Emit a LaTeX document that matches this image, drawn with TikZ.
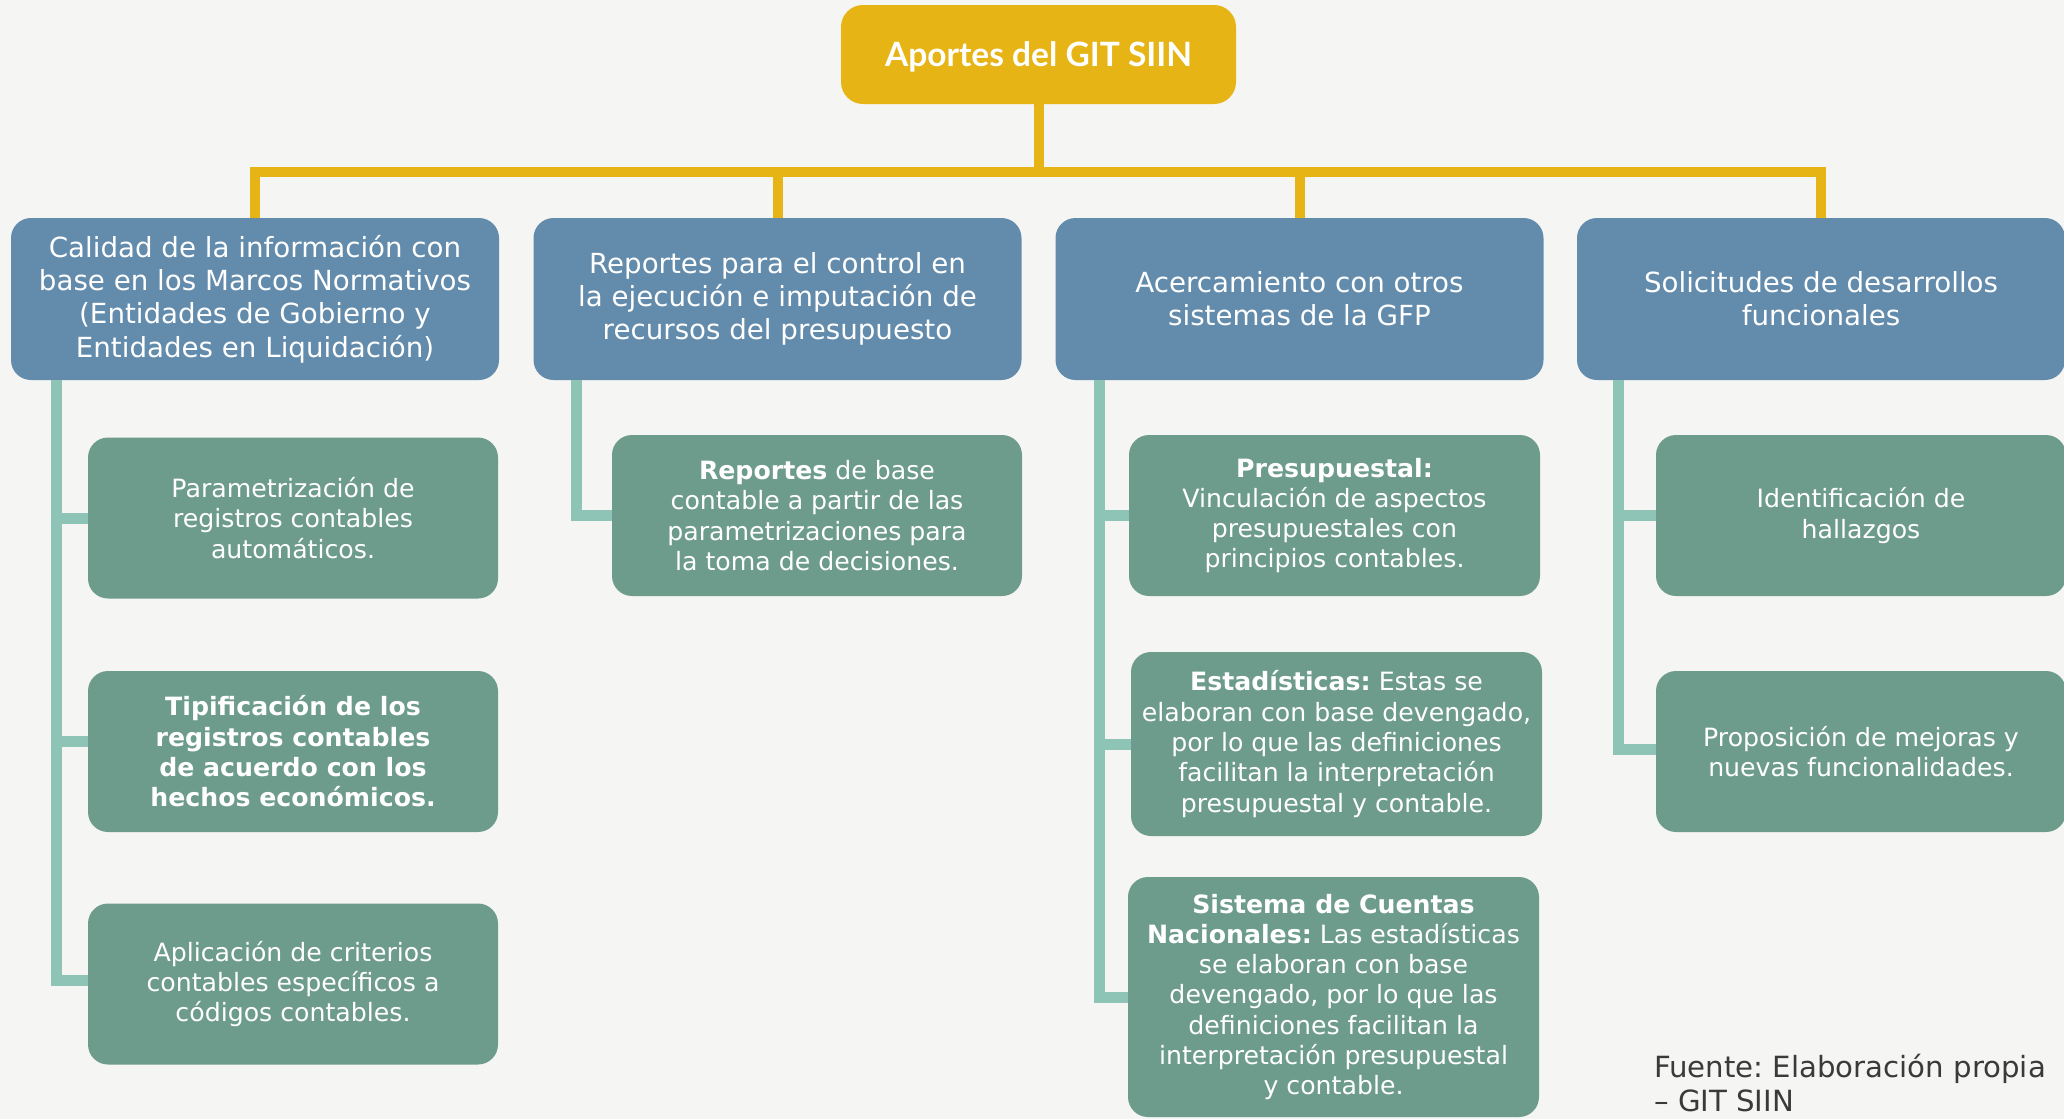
\documentclass[tikz,border=0pt]{standalone}
\usepackage{fontspec}
\setmainfont{DejaVu Sans}
\newfontfamily\rootfont{Lato}
\definecolor{bgc}{HTML}{F5F5F4}
\definecolor{yel}{HTML}{E6B414}
\definecolor{blu}{HTML}{628BAC}
\definecolor{grn}{HTML}{6E9C8C}
\definecolor{tea}{HTML}{8DC4B5}
\definecolor{srcc}{HTML}{3A3A3A}
\tikzset{
  rootbox/.style={fill=yel, rounded corners=22pt, minimum width=395pt, minimum height=99pt, inner sep=0pt, text=white, font=\rootfont\bfseries\fontsize{33.5}{40}\selectfont, align=center},
  bluebox/.style={fill=blu, rounded corners=20pt, minimum width=488pt, minimum height=162pt, inner sep=0pt, text=white, font=\fontsize{27.7}{33.3}\selectfont, align=center},
  grnbox/.style={fill=grn, rounded corners=20pt, minimum width=410pt, minimum height=161pt, inner sep=0pt, text=white, font=\fontsize{25.2}{30.3}\selectfont, align=center},
  yline/.style={draw=yel, line width=10pt, line join=miter},
  tline/.style={draw=tea, line width=11pt, line join=miter},
  srctext/.style={text=srcc, font=\fontsize{29.2}{34}\selectfont, align=left, inner sep=0pt}
}
\begin{document}
\frenchspacing
\begin{tikzpicture}[x=1pt, y=-1pt]
\useasboundingbox (0,0) rectangle (2064,1119);
\fill[bgc] (0,0) rectangle (2064,1119);

\coordinate (bus) at (1038.5,172);
\coordinate (t1) at (56,370);
\coordinate (t2) at (576,370);
\coordinate (t3) at (1099.5,370);
\coordinate (t4) at (1618,370);

\node[rootbox] (root) at (1038.5,54.5) {};
\node[text=white, font=\rootfont\bfseries\fontsize{33.5}{40}\selectfont, inner sep=0pt, anchor=base] (roottext) at ([yshift=-12pt]root.center) {Aportes del GIT SIIN};

\node[bluebox] (b1) at (255,299) {Calidad de la información con\\base en los Marcos Normativos\\(Entidades de Gobierno y\\Entidades en Liquidación)};
\node[bluebox] (b2) at (777.5,299) {Reportes para el control en\\la ejecución e imputación de\\recursos del presupuesto};
\node[bluebox] (b3) at (1299.5,299) {Acercamiento con otros\\sistemas de la GFP};
\node[bluebox] (b4) at (1821,299) {Solicitudes de desarrollos\\funcionales};

\draw[yline] (root.south) -- (bus);
\draw[yline] (b1.north) |- (bus) -| (b4.north);
\draw[yline] (b2.north) -- (b2.north |- bus);
\draw[yline] (b3.north) -- (b3.north |- bus);

\node[grnbox] (c11) at (293,518) {Parametrización de\\registros contables\\automáticos.};
\node[grnbox] (c12) at (293,751.5) {\textbf{Tipificación de los}\\\textbf{registros contables}\\\textbf{de acuerdo con los}\\\textbf{hechos económicos.}};
\node[grnbox] (c13) at (293,984) {Aplicación de criterios\\contables específicos a\\códigos contables.};
\node[grnbox] (c21) at (817,515.5) {\textbf{Reportes} de base\\contable a partir de las\\parametrizaciones para\\la toma de decisiones.};
\node[grnbox, minimum width=411pt] (c31) at (1334.5,515.5) {\textbf{Presupuestal:}\\Vinculación de aspectos\\presupuestales con\\principios contables.};
\node[grnbox, minimum width=411pt, minimum height=184pt] (c32) at (1336.5,744) {\textbf{Estadísticas:} Estas se\\elaboran con base devengado,\\por lo que las definiciones\\facilitan la interpretación\\presupuestal y contable.};
\node[grnbox, minimum width=411pt, minimum height=240pt] (c33) at (1333.5,997) {\textbf{Sistema de Cuentas}\\\textbf{Nacionales:} Las estadísticas\\se elaboran con base\\devengado, por lo que las\\definiciones facilitan la\\interpretación presupuestal\\y contable.};
\node[grnbox] (c41) at (1861,515.5) {Identificación de\\hallazgos};
\node[grnbox] (c42) at (1861,751.5) {Proposición de mejoras y\\nuevas funcionalidades.};

\draw[tline] (b1.south -| t1) |- (c11.west);
\draw[tline] (b1.south -| t1) |- ([yshift=10pt]c12.west);
\draw[tline] (b1.south -| t1) |- ([yshift=4pt]c13.west);
\draw[tline] (b2.south -| t2) |- (c21.west);
\draw[tline] (b3.south -| t3) |- (c31.west);
\draw[tline] (b3.south -| t3) |- (c32.west);
\draw[tline] (b3.south -| t3) |- (c33.west);
\draw[tline] (b4.south -| t4) |- (c41.west);
\draw[tline] (b4.south -| t4) |- ([yshift=2pt]c42.west);

\node[srctext, anchor=north west] (src) at (1654,1054) {Fuente: Elaboración propia\\– GIT SIIN};
\end{tikzpicture}
\end{document}
